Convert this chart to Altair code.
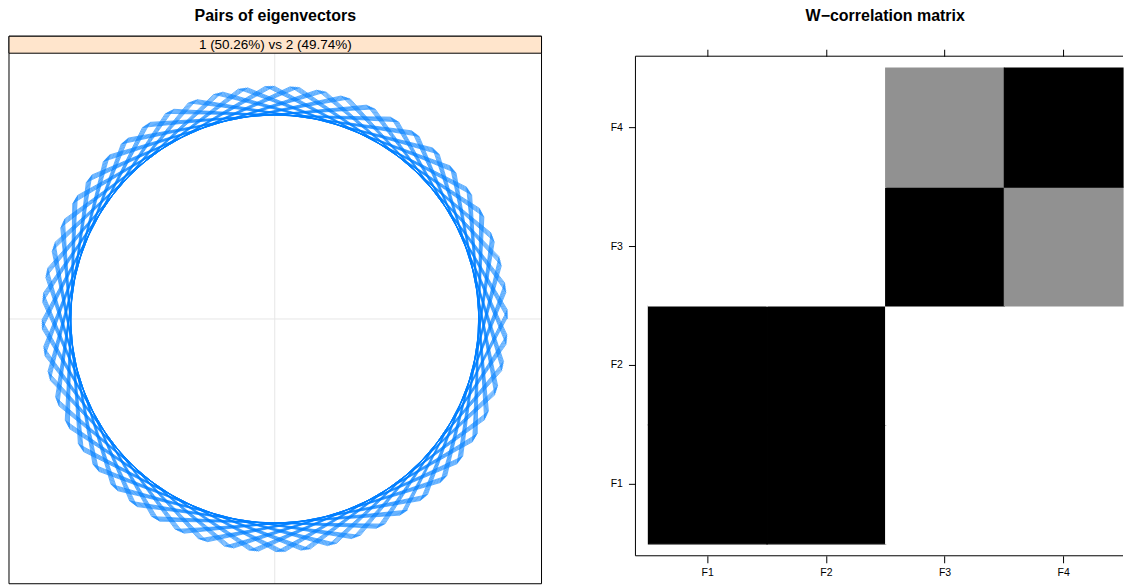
import numpy as np
import pandas as pd
import altair as alt

# ---------------- left panel: pair of SSA eigenvectors 1 and 2 ----------------
LEFT_TITLE = "Pairs of eigenvectors"
EIG_LABEL = "1 (50.26%) vs 2 (49.74%)"
EIG_PERIOD = 6.22136     # period (in lags) of the harmonic eigenvector pair
EIG_LENGTH = 336         # window length = number of entries per eigenvector

# ---------------- right panel: W-correlation matrix ----------------
RIGHT_TITLE = "W\u2212correlation matrix"
components = ["F1", "F2", "F3", "F4"]
wcor_rows = [
    [1.00, 1.00, 0.00, 0.00],
    [1.00, 1.00, 0.00, 0.00],
    [0.00, 0.00, 1.00, 0.43],
    [0.00, 0.00, 0.43, 1.00],
]

FONT = "Liberation Sans"
BLUE = "#0080ff"
STRIP = "#ffe5cc"
GRID = "#e6e6e6"

# eigenvector pair (sine / cosine pair of the harmonic)
lag = np.arange(EIG_LENGTH)
amp = np.sqrt(2.0 / EIG_LENGTH)
eig = pd.DataFrame({
    "lag": lag,
    "u1": amp * np.cos(2 * np.pi * lag / EIG_PERIOD),
    "u2": amp * np.sin(2 * np.pi * lag / EIG_PERIOD),
})

LW, LH = 533, 528
R_PX = 233.0
xs = alt.Scale(domain=[-266 / R_PX * amp, 267 / R_PX * amp], nice=False, zero=False)
ys = alt.Scale(domain=[-265 / R_PX * amp, 263 / R_PX * amp], nice=False, zero=False)

one = pd.DataFrame({"v": [0.0]})

grid_v = alt.Chart(one).mark_rule(color=GRID, strokeWidth=1).encode(
    x=alt.X("v:Q", scale=xs, axis=None), y=alt.value(-3), y2=alt.value(LH))
grid_h = alt.Chart(one).mark_rule(color=GRID, strokeWidth=1).encode(
    y=alt.Y("v:Q", scale=ys, axis=None), x=alt.value(0), x2=alt.value(LW))
curve = alt.Chart(eig).mark_line(color=BLUE, strokeWidth=0.6).encode(
    x=alt.X("u1:Q", scale=xs, axis=None),
    y=alt.Y("u2:Q", scale=ys, axis=None),
    order="lag:Q")
frame_l = alt.Chart(one).mark_rect(filled=False, stroke="black", strokeWidth=1).encode(
    x=alt.value(0), x2=alt.value(LW), y=alt.value(-20), y2=alt.value(LH))
strip = alt.Chart(one).mark_rect(fill=STRIP, stroke="black", strokeWidth=1).encode(
    x=alt.value(0), x2=alt.value(LW), y=alt.value(-20), y2=alt.value(-3))
strip_txt = alt.Chart(pd.DataFrame({"t": [EIG_LABEL]})).mark_text(
    font=FONT, fontSize=13.5, color="black", baseline="middle", align="center").encode(
    text="t:N", x=alt.value(LW / 2), y=alt.value(-11.5))
title_l = alt.Chart(pd.DataFrame({"t": [LEFT_TITLE]})).mark_text(
    font=FONT, fontSize=16, fontWeight="bold", color="black", baseline="alphabetic",
    align="center").encode(text="t:N", x=alt.value(LW / 2), y=alt.value(-35))

left = alt.layer(grid_v, grid_h, curve, frame_l, strip, strip_txt, title_l).properties(
    width=LW, height=LH)

# W-correlation cells
cells = pd.DataFrame([
    {"row": components[i], "col": components[j], "w": wcor_rows[i][j]}
    for i in range(len(components)) for j in range(len(components))
])

RW, RH = 488, 500
xband = alt.Scale(domain=components, paddingInner=0, paddingOuter=0.0547, align=1)
yband = alt.Scale(domain=components[::-1], paddingInner=0, paddingOuter=0.1)
gray_scale = alt.Scale(domain=[0, 1], range=["#ffffff", "#000000"], interpolate="rgb")
axis_common = dict(domain=False, grid=False, title=None, ticks=True, tickSize=7,
                   tickColor="black", tickWidth=1, labelColor="black",
                   labelFont=FONT, labelFontSize=10.5)

rects = alt.Chart(cells).mark_rect(strokeWidth=1.2).encode(
    x=alt.X("col:N", scale=xband,
            axis=alt.Axis(orient="bottom", labelAngle=0, labelPadding=5, **axis_common)),
    y=alt.Y("row:N", scale=yband,
            axis=alt.Axis(orient="left", labelPadding=6, **axis_common)),
    color=alt.Color("w:Q", scale=gray_scale, legend=None),
    stroke=alt.Stroke("w:Q", scale=gray_scale, legend=None))
top_ticks = alt.Chart(cells).mark_rect(opacity=0).encode(
    x=alt.X("col:N", scale=xband,
            axis=alt.Axis(orient="top", labels=False, **axis_common)))
fr_top = alt.Chart(one).mark_rule(color="black", strokeWidth=1).encode(
    x=alt.value(0), x2=alt.value(RW), y=alt.value(0))
fr_bot = alt.Chart(one).mark_rule(color="black", strokeWidth=1).encode(
    x=alt.value(0), x2=alt.value(RW), y=alt.value(RH))
fr_left = alt.Chart(one).mark_rule(color="black", strokeWidth=1).encode(
    x=alt.value(0), y=alt.value(0), y2=alt.value(RH))
title_r = alt.Chart(pd.DataFrame({"t": [RIGHT_TITLE]})).mark_text(
    font=FONT, fontSize=16, fontWeight="bold", color="black", baseline="alphabetic",
    align="center").encode(text="t:N", x=alt.value(250), y=alt.value(-35))

right = alt.layer(rects, top_ticks, fr_top, fr_bot, fr_left, title_r).resolve_axis(
    x="independent").properties(width=RW, height=RH)

chart = alt.hconcat(left, right, spacing=94, bounds="flush").properties(
    padding=0).configure_view(stroke=None)

chart.save("out.html", embed_options={"renderer": "svg", "actions": False})
